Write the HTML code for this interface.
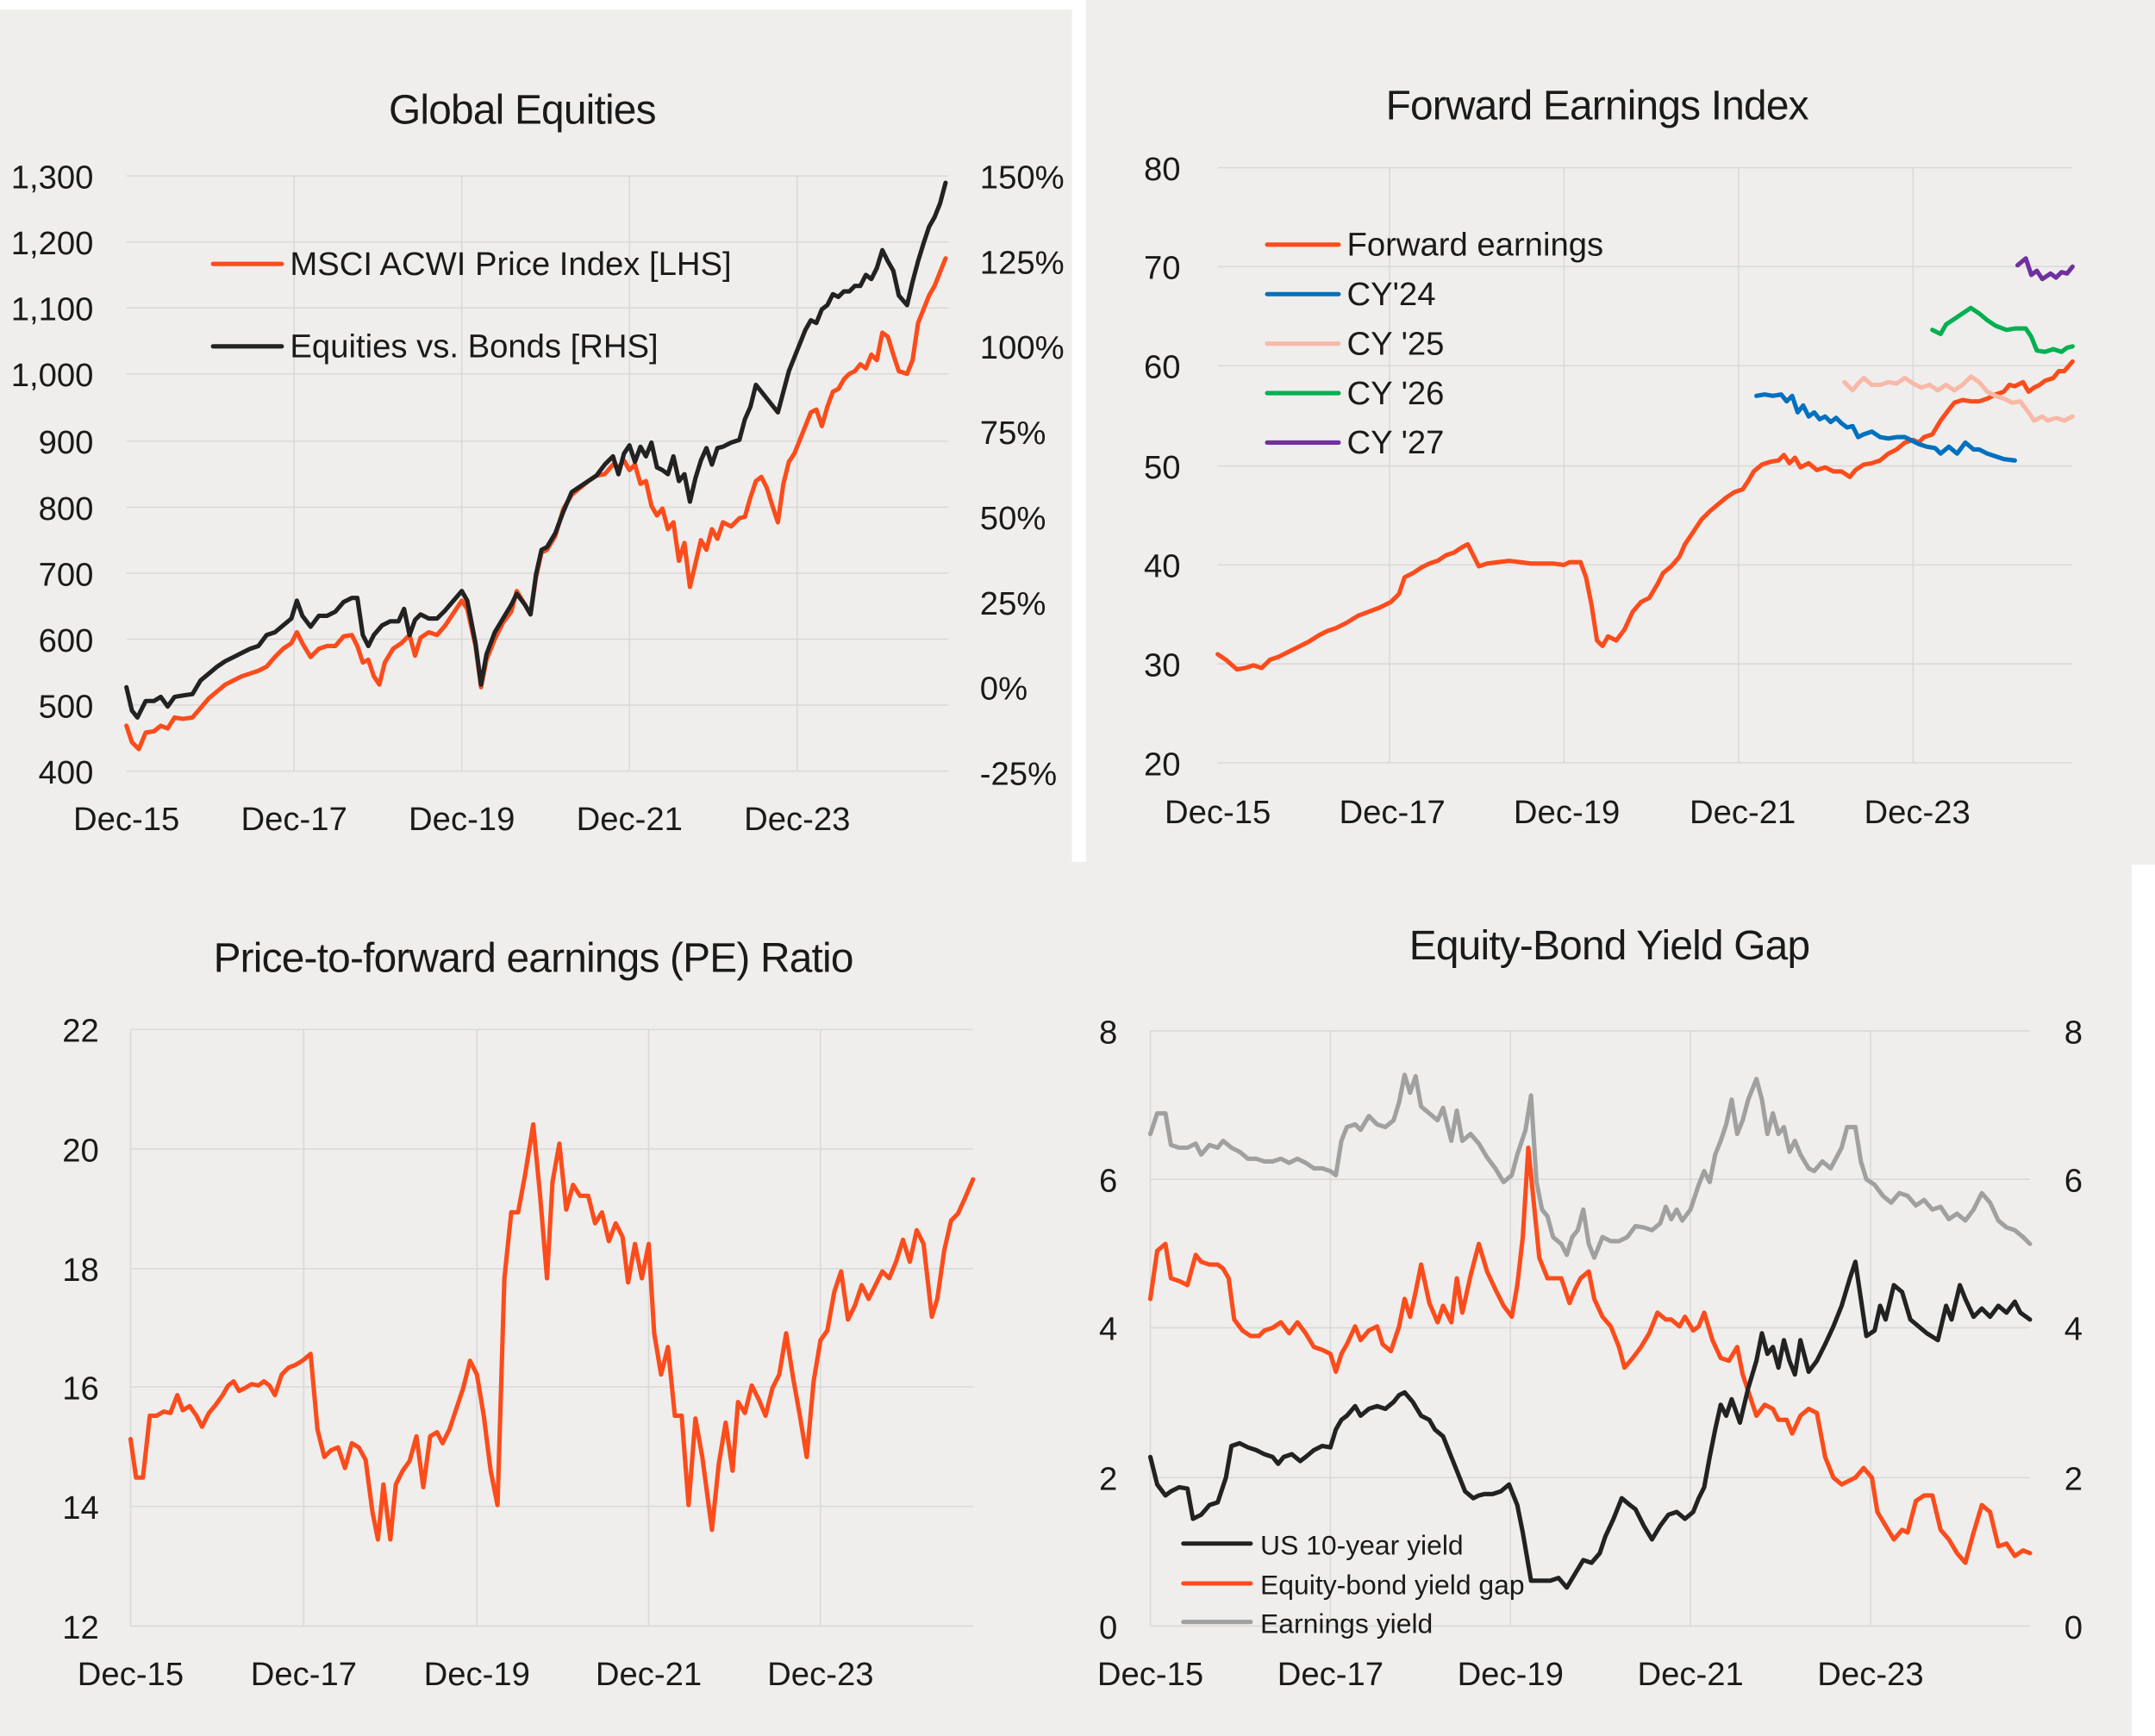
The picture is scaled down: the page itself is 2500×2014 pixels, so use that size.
<!DOCTYPE html>
<html><head><meta charset="utf-8"><style>
html,body{margin:0;padding:0;background:#fff;}
svg{display:block;}
text{font-family:"Liberation Sans",sans-serif;fill:#1a1a1a;}
.t{font-size:30px;letter-spacing:-0.5px}
.l{font-size:24px}
.g{stroke:#d9d9d9;stroke-width:1;fill:none}
.s{fill:none;stroke-width:3.2;stroke-linejoin:round;stroke-linecap:round}
</style></head><body>
<svg width="2500" height="2014" viewBox="0 0 1568 1263" preserveAspectRatio="none" xmlns="http://www.w3.org/2000/svg">
<rect x="0" y="0" width="1568" height="1263" fill="#fff"/>
<rect x="0" y="7" width="780" height="622" fill="#efeeec"/>
<rect x="790" y="0" width="778" height="629" fill="#efeeec"/>
<rect x="0" y="627" width="1551" height="636" fill="#efeeec"/>

<!-- TL Global Equities -->
<text class="t" x="380" y="90" text-anchor="middle">Global Equities</text>
<g class="g">
<path d="M92 128H690M92 176H690M92 224H690M92 272H690M92 321H690M92 369H690M92 417H690M92 465H690M92 513H690M92 561H690"/>
<path d="M214 128V561M336 128V561M458 128V561M580 128V561"/>
</g>
<g class="l" text-anchor="end">
<text x="68" y="137">1,300</text><text x="68" y="185">1,200</text><text x="68" y="233">1,100</text><text x="68" y="281">1,000</text><text x="68" y="330">900</text><text x="68" y="378">800</text><text x="68" y="426">700</text><text x="68" y="474">600</text><text x="68" y="522">500</text><text x="68" y="570">400</text>
</g>
<g class="l">
<text x="713" y="137">150%</text><text x="713" y="199">125%</text><text x="713" y="261">100%</text><text x="713" y="323">75%</text><text x="713" y="385">50%</text><text x="713" y="447">25%</text><text x="713" y="509">0%</text><text x="713" y="571">-25%</text>
</g>
<g class="l" text-anchor="middle">
<text x="92" y="604">Dec-15</text><text x="214" y="604">Dec-17</text><text x="336" y="604">Dec-19</text><text x="458" y="604">Dec-21</text><text x="580" y="604">Dec-23</text>
</g>
<path class="s" stroke="#fc4c1c" d="M155 192H205"/><text class="l" x="211" y="200">MSCI ACWI Price Index [LHS]</text>
<path class="s" stroke="#222" d="M155 252H205"/><text class="l" x="211" y="260">Equities vs. Bonds [RHS]</text>
<polyline class="s" stroke="#fc4c1c" points="92,528 96,540 101,545 106,533 112,532 117,528 122,530 127,522 133,523 140,522 146,515 152,508 158,503 164,498 170,495 176,492 182,490 188,488 194,485 200,478 206,472 212,468 216,460 220,468 226,478 232,472 238,470 244,470 250,463 256,462 260,470 264,482 268,480 272,492 276,498 280,482 286,472 292,468 298,462 302,477 306,464 312,460 318,462 324,455 330,446 336,437 340,443 346,470 350,500 354,480 360,465 366,453 372,445 376,430 382,440 386,447 390,420 394,402 398,400 404,390 410,370 416,360 422,355 428,350 434,346 440,345 446,338 450,340 454,335 458,342 462,338 466,352 470,350 474,368 478,375 482,370 486,385 490,380 494,408 498,395 502,427 506,410 510,393 514,400 518,385 522,392 526,380 532,383 538,377 542,376 546,362 550,350 554,347 558,355 562,368 566,380 570,352 574,336 578,330 582,320 586,310 590,300 594,298 598,310 602,296 606,285 610,283 614,276 618,272 622,270 626,265 630,268 634,258 638,262 642,242 646,245 650,258 654,270 660,272 664,262 668,235 672,225 676,215 680,208 684,198 688,188"/>
<polyline class="s" stroke="#222" points="92,500 96,517 100,522 106,510 112,510 117,507 122,514 127,507 133,506 140,505 146,495 152,490 158,485 164,481 170,478 176,475 182,472 188,470 194,462 200,460 206,455 212,450 216,437 220,448 226,456 232,448 238,448 244,445 250,438 256,435 260,435 264,462 268,470 272,462 278,455 284,452 290,452 294,443 298,462 302,451 306,447 312,450 318,450 324,444 330,437 336,430 340,437 346,468 350,498 354,476 360,460 366,450 372,440 376,432 382,440 386,447 390,418 394,400 398,398 404,388 410,372 416,358 422,354 428,350 434,346 440,338 446,332 450,345 454,330 458,324 462,336 466,325 470,332 474,322 478,340 482,342 486,345 490,332 494,350 498,345 502,365 506,348 510,335 514,326 518,338 522,326 526,325 532,322 538,320 542,305 546,296 550,280 554,285 558,290 562,295 566,300 570,285 574,270 578,260 582,250 586,240 590,233 594,235 598,225 602,222 606,214 610,216 614,212 618,212 622,208 626,208 630,200 634,203 638,195 642,182 646,190 650,197 654,215 660,222 664,205 668,190 672,177 676,165 680,158 684,148 688,133"/>

<!-- TR Forward Earnings -->
<text class="t" x="1162" y="87" text-anchor="middle">Forward Earnings Index</text>
<g class="g">
<path d="M886 122H1508M886 194H1508M886 266H1508M886 339H1508M886 411H1508M886 483H1508M886 555H1508"/>
<path d="M1011 122V555M1138 122V555M1265 122V555M1392 122V555"/>
</g>
<g class="l" text-anchor="end">
<text x="859" y="131">80</text><text x="859" y="203">70</text><text x="859" y="275">60</text><text x="859" y="348">50</text><text x="859" y="420">40</text><text x="859" y="492">30</text><text x="859" y="564">20</text>
</g>
<g class="l" text-anchor="middle">
<text x="886" y="599">Dec-15</text><text x="1013" y="599">Dec-17</text><text x="1140" y="599">Dec-19</text><text x="1268" y="599">Dec-21</text><text x="1395" y="599">Dec-23</text>
</g>
<path class="s" stroke="#fc4c1c" d="M922 178H974"/><text class="l" x="980" y="186">Forward earnings</text>
<path class="s" stroke="#0070c0" d="M922 214H974"/><text class="l" x="980" y="222">CY'24</text>
<path class="s" stroke="#f8b9a8" d="M922 250H974"/><text class="l" x="980" y="258">CY '25</text>
<path class="s" stroke="#00b050" d="M922 286H974"/><text class="l" x="980" y="294">CY '26</text>
<path class="s" stroke="#7030a0" d="M922 322H974"/><text class="l" x="980" y="330">CY '27</text>
<polyline class="s" stroke="#fc4c1c" points="886,476 892,480 900,487 906,486 912,484 918,486 924,480 930,478 936,475 944,471 952,467 960,462 966,459 972,457 980,453 988,448 996,445 1004,442 1012,438 1018,432 1022,420 1028,417 1034,413 1040,410 1046,408 1052,404 1058,402 1064,398 1068,396 1072,404 1076,412 1082,410 1090,409 1098,408 1106,409 1114,410 1122,410 1130,410 1138,411 1142,409 1150,409 1154,420 1158,440 1162,466 1166,470 1170,463 1176,466 1182,458 1188,445 1194,438 1200,435 1206,425 1210,417 1216,412 1222,405 1226,396 1232,387 1238,378 1244,372 1250,367 1256,362 1262,358 1268,356 1272,350 1276,343 1282,338 1288,336 1294,335 1298,331 1302,337 1306,333 1310,340 1316,337 1322,342 1328,340 1334,343 1340,343 1346,347 1350,342 1356,338 1362,337 1368,335 1374,330 1380,327 1386,322 1392,320 1396,322 1400,318 1406,316 1412,306 1418,298 1422,293 1428,291 1434,292 1440,292 1446,290 1452,287 1458,285 1462,280 1466,281 1472,278 1476,285 1480,282 1484,280 1488,277 1494,275 1498,270 1502,270 1508,263"/>
<polyline class="s" stroke="#0070c0" points="1278,288 1284,287 1290,288 1296,287 1300,292 1304,288 1308,300 1312,295 1316,303 1320,300 1324,305 1328,303 1332,307 1336,304 1340,308 1344,311 1348,310 1352,318 1356,316 1362,314 1368,318 1374,319 1380,318 1386,318 1390,320 1396,323 1402,325 1408,326 1412,330 1418,325 1424,330 1430,322 1436,327 1440,327 1446,330 1452,332 1458,334 1466,335"/>
<polyline class="s" stroke="#f8b9a8" points="1342,278 1348,284 1352,279 1356,275 1362,280 1368,280 1374,278 1380,279 1386,275 1392,279 1398,282 1404,280 1410,284 1416,280 1422,284 1428,280 1434,274 1440,278 1446,285 1452,288 1458,290 1464,293 1470,292 1476,300 1480,306 1486,303 1490,306 1496,304 1502,306 1508,303"/>
<polyline class="s" stroke="#00b050" points="1406,240 1412,243 1416,236 1422,232 1428,228 1434,224 1440,228 1446,233 1452,237 1460,240 1466,239 1474,239 1478,245 1482,255 1488,256 1494,254 1500,256 1504,253 1508,252"/>
<polyline class="s" stroke="#7030a0" points="1468,193 1474,188 1478,200 1482,197 1486,203 1492,199 1496,202 1500,198 1504,199 1508,194"/>

<!-- BL PE -->
<text class="t" x="388" y="707" text-anchor="middle">Price-to-forward earnings (PE) Ratio</text>
<g class="g">
<path d="M95 749H708M95 836H708M95 923H708M95 1009H708M95 1096H708M95 1183H708"/>
<path d="M95 749V1183M221 749V1183M347 749V1183M472 749V1183M597 749V1183"/>
</g>
<g class="l" text-anchor="end">
<text x="72" y="758">22</text><text x="72" y="845">20</text><text x="72" y="932">18</text><text x="72" y="1018">16</text><text x="72" y="1105">14</text><text x="72" y="1192">12</text>
</g>
<g class="l" text-anchor="middle">
<text x="95" y="1226">Dec-15</text><text x="221" y="1226">Dec-17</text><text x="347" y="1226">Dec-19</text><text x="472" y="1226">Dec-21</text><text x="597" y="1226">Dec-23</text>
</g>
<polyline class="s" stroke="#fc4c1c" points="95,1047 99,1075 104,1075 109,1030 114,1030 119,1027 124,1028 129,1015 133,1026 138,1023 143,1030 147,1038 152,1028 157,1022 162,1015 166,1008 170,1005 174,1012 178,1010 183,1007 188,1008 192,1005 196,1008 200,1015 205,1000 210,995 215,993 220,990 226,985 231,1040 236,1060 241,1055 246,1053 251,1068 256,1050 261,1053 266,1062 271,1100 275,1120 279,1080 284,1120 288,1080 293,1070 298,1063 303,1045 308,1082 313,1045 318,1042 322,1050 327,1040 332,1025 337,1010 342,990 347,1000 352,1030 357,1070 362,1095 367,930 372,882 377,882 382,855 388,818 393,870 398,930 402,860 407,832 412,880 417,862 422,870 428,870 433,890 438,882 443,903 448,890 453,900 457,933 462,905 467,930 472,905 476,970 481,1000 486,980 491,1030 496,1030 501,1095 506,1032 511,1060 518,1113 523,1065 528,1035 533,1070 537,1020 542,1028 547,1008 552,1018 557,1030 562,1010 567,1000 572,970 577,1002 582,1030 587,1060 592,1005 597,975 602,968 607,940 612,925 617,960 622,950 627,935 632,945 637,935 642,925 647,930 652,918 657,902 662,918 667,895 672,905 678,958 682,945 687,910 692,888 697,883 702,872 708,858"/>

<!-- BR Yield Gap -->
<text class="t" x="1171" y="698" text-anchor="middle">Equity-Bond Yield Gap</text>
<g class="g">
<path d="M837 750H1477M837 858H1477M837 966H1477M837 1075H1477M837 1183H1477"/>
<path d="M837 750V1183M968 750V1183M1099 750V1183M1230 750V1183M1361 750V1183"/>
</g>
<g class="l" text-anchor="end">
<text x="813" y="759">8</text><text x="813" y="867">6</text><text x="813" y="975">4</text><text x="813" y="1084">2</text><text x="813" y="1192">0</text>
</g>
<g class="l">
<text x="1502" y="759">8</text><text x="1502" y="867">6</text><text x="1502" y="975">4</text><text x="1502" y="1084">2</text><text x="1502" y="1192">0</text>
</g>
<g class="l" text-anchor="middle">
<text x="837" y="1226">Dec-15</text><text x="968" y="1226">Dec-17</text><text x="1099" y="1226">Dec-19</text><text x="1230" y="1226">Dec-21</text><text x="1361" y="1226">Dec-23</text>
</g>
<polyline class="s" stroke="#a0a0a0" points="837,825 842,810 848,810 852,833 858,835 864,835 870,832 874,840 880,833 886,835 890,830 896,835 902,838 908,843 914,843 920,845 926,845 932,843 938,846 944,843 950,846 956,850 962,850 968,852 972,855 976,830 980,820 986,818 990,822 996,812 1002,818 1008,820 1014,815 1018,802 1022,782 1026,795 1030,783 1034,805 1040,810 1046,815 1050,806 1056,830 1060,808 1064,830 1070,825 1076,832 1082,842 1088,850 1094,860 1100,855 1104,840 1110,822 1114,797 1118,860 1122,880 1126,885 1130,900 1136,905 1140,913 1144,900 1148,895 1152,880 1156,905 1160,915 1166,900 1172,903 1178,903 1184,900 1190,892 1196,893 1202,895 1208,890 1212,878 1216,887 1220,880 1224,888 1230,880 1236,862 1240,852 1244,860 1248,840 1252,830 1256,818 1260,800 1264,825 1268,815 1272,800 1278,785 1282,800 1286,825 1290,810 1294,825 1298,820 1302,838 1306,830 1310,840 1316,850 1320,852 1326,845 1332,850 1340,835 1344,820 1350,820 1354,845 1358,858 1364,862 1370,870 1376,875 1382,868 1388,870 1394,877 1400,873 1406,880 1412,878 1418,887 1424,883 1430,888 1436,880 1442,868 1448,875 1454,888 1460,893 1466,895 1472,900 1477,905"/>
<polyline class="s" stroke="#fc4c1c" points="837,945 842,910 848,905 852,930 858,932 864,935 870,913 874,918 880,920 886,920 890,923 894,930 898,960 904,968 910,972 916,972 920,968 926,966 932,962 938,970 944,962 950,970 956,980 962,982 968,985 972,998 976,985 980,978 986,965 990,975 996,968 1002,965 1006,978 1012,983 1018,965 1022,945 1026,958 1030,940 1034,920 1040,948 1046,962 1050,950 1056,962 1060,930 1064,955 1070,928 1076,905 1082,925 1088,938 1094,950 1100,958 1104,935 1108,900 1112,835 1116,875 1120,915 1126,930 1130,930 1136,930 1142,948 1146,938 1150,930 1156,925 1160,945 1166,958 1172,965 1178,980 1182,995 1188,988 1194,980 1200,970 1206,955 1212,960 1216,960 1222,965 1226,958 1232,968 1236,965 1240,955 1246,975 1252,988 1258,990 1264,980 1268,1000 1274,1018 1278,1030 1284,1022 1290,1025 1294,1033 1300,1033 1304,1043 1310,1030 1316,1025 1322,1028 1328,1060 1334,1075 1340,1080 1346,1077 1350,1075 1356,1068 1362,1075 1366,1100 1372,1110 1378,1120 1384,1113 1388,1115 1394,1092 1400,1088 1406,1088 1412,1113 1418,1120 1424,1130 1430,1137 1436,1115 1442,1095 1448,1100 1454,1125 1460,1123 1466,1132 1472,1128 1477,1130"/>
<polyline class="s" stroke="#222" points="837,1060 842,1080 848,1088 852,1085 858,1082 864,1083 868,1105 874,1102 880,1095 886,1093 892,1075 896,1052 902,1050 908,1053 914,1055 920,1058 926,1060 930,1065 934,1060 940,1058 946,1063 950,1060 956,1055 962,1052 968,1053 972,1040 976,1033 980,1030 986,1023 990,1030 996,1025 1002,1023 1008,1025 1014,1020 1018,1015 1022,1013 1028,1020 1034,1030 1040,1033 1044,1040 1050,1045 1056,1060 1060,1070 1066,1085 1072,1090 1076,1088 1080,1087 1086,1087 1092,1085 1098,1080 1104,1095 1108,1115 1114,1150 1120,1150 1128,1150 1134,1148 1140,1155 1146,1145 1152,1135 1158,1137 1164,1130 1168,1118 1174,1105 1180,1090 1186,1095 1190,1098 1196,1110 1202,1120 1208,1110 1214,1102 1220,1100 1226,1105 1232,1100 1236,1090 1240,1082 1244,1060 1248,1040 1252,1022 1256,1030 1260,1018 1266,1035 1272,1010 1278,990 1282,970 1286,985 1290,980 1294,995 1298,975 1302,990 1306,1000 1310,975 1316,998 1322,990 1328,978 1334,965 1340,950 1346,930 1350,918 1354,945 1358,972 1364,968 1368,950 1372,960 1378,935 1384,940 1390,960 1396,965 1402,970 1410,975 1416,950 1420,960 1426,935 1430,945 1436,958 1442,952 1448,958 1454,950 1460,955 1466,947 1470,955 1477,960"/>
<path class="s" stroke="#222" d="M861 1123H910"/><text class="l" x="917" y="1131" style="font-size:20px">US 10-year yield</text>
<path class="s" stroke="#fc4c1c" d="M861 1152H910"/><text class="l" x="917" y="1160" style="font-size:20px">Equity-bond yield gap</text>
<path class="s" stroke="#a0a0a0" d="M861 1180H910"/><text class="l" x="917" y="1188" style="font-size:20px">Earnings yield</text>
</svg>
</body></html>
